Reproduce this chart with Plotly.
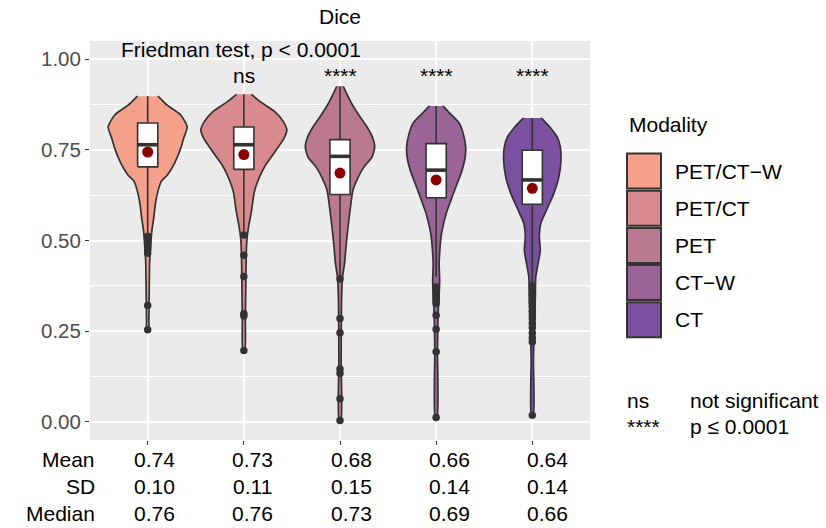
import plotly.graph_objects as go

# ---------------- data ----------------
categories = ["PET/CT−W", "PET/CT", "PET", "CT−W", "CT"]
fill_colors = ["#F5A08A", "#D98A8D", "#BB7891", "#9B6497", "#7B50A0"]

# violin outlines: Dice levels and half-widths (category units)
lv_petctw = [0.898, 0.873, 0.846, 0.813, 0.782, 0.754, 0.717, 0.680, 0.665, 0.643, 0.606, 0.561, 0.524, 0.487, 0.445, 0.363, 0.280, 0.255]
hw_petctw = [0.107, 0.203, 0.343, 0.411, 0.374, 0.343, 0.286, 0.203, 0.146, 0.114, 0.083, 0.062, 0.042, 0.031, 0.021, 0.016, 0.012, 0.010]

lv_petct = [0.903, 0.882, 0.855, 0.827, 0.804, 0.781, 0.744, 0.708, 0.671, 0.634, 0.579, 0.542, 0.514, 0.473, 0.390, 0.280, 0.197]
hw_petct = [0.078, 0.174, 0.322, 0.413, 0.447, 0.416, 0.322, 0.226, 0.156, 0.109, 0.078, 0.052, 0.036, 0.026, 0.021, 0.016, 0.010]

lv_pet = [0.925, 0.896, 0.868, 0.841, 0.813, 0.786, 0.758, 0.730, 0.703, 0.675, 0.639, 0.593, 0.537, 0.482, 0.436, 0.399, 0.335, 0.170, 0.004]
hw_pet = [0.034, 0.086, 0.142, 0.208, 0.281, 0.336, 0.361, 0.333, 0.250, 0.190, 0.135, 0.109, 0.083, 0.062, 0.047, 0.026, 0.016, 0.012, 0.010]

lv_ctw = [0.871, 0.850, 0.823, 0.795, 0.758, 0.730, 0.694, 0.657, 0.620, 0.574, 0.528, 0.501, 0.464, 0.436, 0.390, 0.349, 0.298, 0.197, 0.012]
hw_ctw = [0.070, 0.146, 0.242, 0.281, 0.307, 0.302, 0.270, 0.218, 0.166, 0.104, 0.062, 0.047, 0.036, 0.031, 0.036, 0.031, 0.021, 0.014, 0.010]

lv_ct = [0.838, 0.813, 0.786, 0.758, 0.721, 0.675, 0.630, 0.583, 0.547, 0.510, 0.473, 0.436, 0.399, 0.344, 0.298, 0.252, 0.170, 0.018]
hw_ct = [0.092, 0.182, 0.257, 0.291, 0.298, 0.276, 0.224, 0.146, 0.088, 0.073, 0.083, 0.060, 0.036, 0.031, 0.026, 0.019, 0.012, 0.010]

# box statistics
q1s = [0.703, 0.696, 0.627, 0.618, 0.600]
medians = [0.764, 0.764, 0.732, 0.694, 0.667]
q3s = [0.824, 0.813, 0.778, 0.767, 0.749]
lower_whisk = [0.520, 0.520, 0.400, 0.400, 0.380]
upper_whisk = [0.898, 0.903, 0.925, 0.871, 0.838]
means = [0.744, 0.737, 0.686, 0.667, 0.644]

out_petctw = [0.512, 0.505, 0.498, 0.490, 0.483, 0.475, 0.465, 0.321, 0.254]
out_petct = [0.515, 0.459, 0.401, 0.298, 0.292, 0.197]
out_pet = [0.394, 0.285, 0.246, 0.146, 0.134, 0.064, 0.004]
out_ctw = [0.372, 0.360, 0.350, 0.342, 0.333, 0.326, 0.294, 0.255, 0.193, 0.012]
out_ct = [0.375, 0.365, 0.352, 0.340, 0.330, 0.318, 0.305, 0.295, 0.285, 0.272, 0.260, 0.245, 0.232, 0.220, 0.018]

signif = ["", "ns", "****", "****", "****"]

table_rows = ["Mean", "SD", "Median"]
mean_txt = ["0.74", "0.73", "0.68", "0.66", "0.64"]
sd_txt = ["0.10", "0.11", "0.15", "0.14", "0.14"]
median_txt = ["0.76", "0.76", "0.73", "0.69", "0.66"]

y_ticks = [0.0, 0.25, 0.5, 0.75, 1.0]

# ---------------- figure ----------------
levels = [lv_petctw, lv_petct, lv_pet, lv_ctw, lv_ct]
halfw = [hw_petctw, hw_petct, hw_pet, hw_ctw, hw_ct]
outliers = [out_petctw, out_petct, out_pet, out_ctw, out_ct]
positions = list(range(1, len(categories) + 1))

FONT = "Liberation Sans, Arial, sans-serif"
DARK = "#333333"
BOXW = 0.21

L, R, T, B = 90, 236, 41, 88
W, H = 826, 528


def px_x(px):
    return (px - L) / (W - L - R)


def px_y(py):
    return (H - B - py) / (H - T - B)


fig = go.Figure()

for c, lv, hw, col in zip(positions, levels, halfw, fill_colors):
    xs = [c + w for w in hw] + [c - w for w in reversed(hw)]
    ys = list(lv) + list(reversed(lv))
    fig.add_trace(go.Scatter(
        x=xs, y=ys, mode="lines", fill="toself", fillcolor=col,
        line=dict(color=DARK, width=1.7, shape="spline", smoothing=0.6),
        showlegend=False, hoverinfo="skip"))

for i, c in enumerate(positions):
    # whiskers
    fig.add_trace(go.Scatter(
        x=[c, c, None, c, c], y=[q3s[i], upper_whisk[i], None, q1s[i], lower_whisk[i]],
        mode="lines", line=dict(color=DARK, width=1.6),
        showlegend=False, hoverinfo="skip"))
    # box
    x0, x1 = c - BOXW / 2, c + BOXW / 2
    fig.add_trace(go.Scatter(
        x=[x0, x1, x1, x0, x0], y=[q1s[i], q1s[i], q3s[i], q3s[i], q1s[i]],
        mode="lines", fill="toself", fillcolor="white",
        line=dict(color=DARK, width=1.6),
        showlegend=False, hoverinfo="skip"))
    # median
    fig.add_trace(go.Scatter(
        x=[x0, x1], y=[medians[i], medians[i]],
        mode="lines", line=dict(color=DARK, width=3.6),
        showlegend=False, hoverinfo="skip"))
    # outliers
    fig.add_trace(go.Scatter(
        x=[c] * len(outliers[i]), y=outliers[i], mode="markers",
        marker=dict(color=DARK, size=7.5),
        showlegend=False, hoverinfo="skip"))

fig.add_trace(go.Scatter(
    x=positions, y=means, mode="markers",
    marker=dict(color="#8B0000", size=11),
    showlegend=False, hoverinfo="skip"))

ann = []
ann.append(dict(text="Dice", xref="paper", yref="paper", x=0.5, y=px_y(16),
                xanchor="center", yanchor="middle", showarrow=False,
                font=dict(size=21, color="black", family=FONT)))
ann.append(dict(text="Friedman test, p < 0.0001", xref="x", yref="y", x=1.97, y=1.026,
                xanchor="center", yanchor="middle", showarrow=False,
                font=dict(size=21, color="black", family=FONT)))
for c, s in zip(positions, signif):
    if s:
        ann.append(dict(text=s, xref="x", yref="y", x=c, y=0.954,
                        xanchor="center", yanchor="middle", showarrow=False,
                        font=dict(size=21, color="black", family=FONT)))

row_px = [459, 486, 513.5]
for r, (name, vals) in enumerate(zip(table_rows, [mean_txt, sd_txt, median_txt])):
    ann.append(dict(text=name, xref="paper", yref="paper", x=px_x(97), y=px_y(row_px[r]),
                    xanchor="right", yanchor="middle", showarrow=False,
                    font=dict(size=21, color="black", family=FONT)))
    for i, v in enumerate(vals):
        ann.append(dict(text=v, xref="x", yref="paper", x=positions[i], xshift=7 + 2 * i,
                        y=px_y(row_px[r]), xanchor="center", yanchor="middle",
                        showarrow=False, font=dict(size=21, color="black", family=FONT)))

shapes = []
ann.append(dict(text="Modality", xref="paper", yref="paper", x=px_x(627), y=px_y(124),
                xanchor="left", yanchor="middle", showarrow=False,
                font=dict(size=21, color="black", family=FONT)))
for i, (cat, col) in enumerate(zip(categories, fill_colors)):
    top = 153.5 + 37.2 * i
    shapes.append(dict(type="rect", xref="paper", yref="paper",
                       x0=px_x(627), x1=px_x(661), y0=px_y(top), y1=px_y(top + 35),
                       fillcolor=col, line=dict(color=DARK, width=2)))
    ann.append(dict(text=cat, xref="paper", yref="paper", x=px_x(673), y=px_y(top + 17.5),
                    xanchor="left", yanchor="middle", showarrow=False,
                    font=dict(size=21, color="black", family=FONT)))

for (k, v), py in zip([("ns", "not significant"), ("****", "p ≤ 0.0001")], [400, 426]):
    ann.append(dict(text=k, xref="paper", yref="paper", x=px_x(625), y=px_y(py),
                    xanchor="left", yanchor="middle", showarrow=False,
                    font=dict(size=21, color="black", family=FONT)))
    ann.append(dict(text=v, xref="paper", yref="paper", x=px_x(688), y=px_y(py),
                    xanchor="left", yanchor="middle", showarrow=False,
                    font=dict(size=21, color="black", family=FONT)))

fig.update_layout(
    width=W, height=H,
    margin=dict(l=L, r=R, t=T, b=B, pad=0),
    paper_bgcolor="white", plot_bgcolor="#EBEBEB",
    showlegend=False,
    annotations=ann, shapes=shapes,
    xaxis=dict(range=[0.4, 5.6], tickvals=positions, showticklabels=False,
               ticks="outside", ticklen=4, tickwidth=1.4, tickcolor=DARK,
               showgrid=True, gridcolor="white", gridwidth=1.6,
               zeroline=False, showline=False, fixedrange=True),
    yaxis=dict(range=[-0.05, 1.05], tickvals=y_ticks, tickformat=".2f",
               ticks="outside", ticklen=4, tickwidth=1.4, tickcolor=DARK,
               tickfont=dict(size=20.5, color="#4D4D4D", family=FONT),
               showgrid=True, gridcolor="white", gridwidth=1.6,
               minor=dict(tickvals=[0.125, 0.375, 0.625, 0.875], showgrid=True,
                          gridcolor="white", gridwidth=0.8, ticks=""),
               zeroline=False, showline=False, fixedrange=True),
)

fig.write_html("out.html", config={"displayModeBar": False},
               post_script="document.body.style.margin='0';document.body.style.overflow='hidden';")
